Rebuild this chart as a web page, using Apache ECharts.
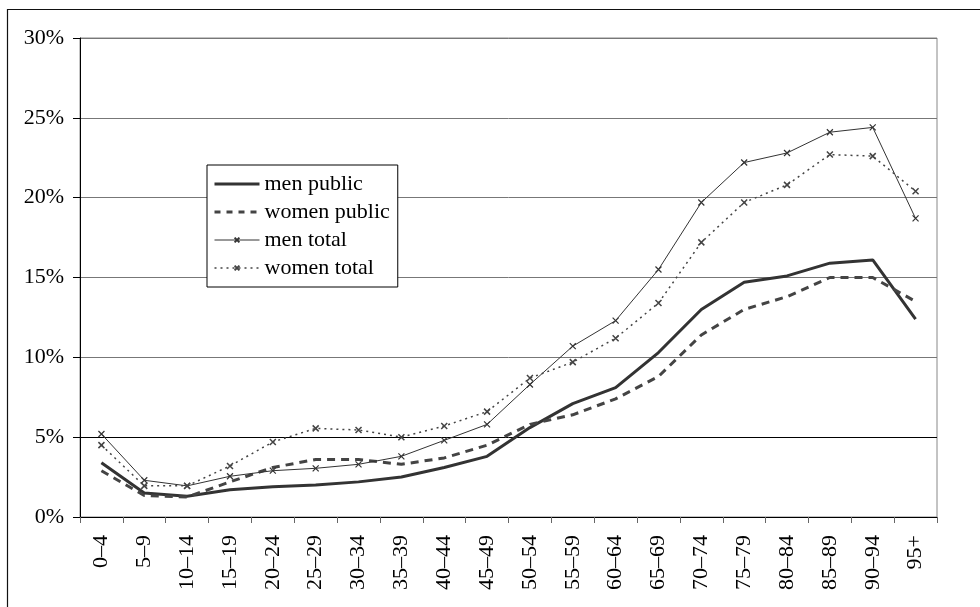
<!DOCTYPE html>
<html>
<head>
<meta charset="utf-8">
<script src="https://cdn.jsdelivr.net/npm/echarts@6/dist/echarts.min.js"></script>
<style>
  html, body { margin: 0; padding: 0; background: #fff; }
  #main { width: 980px; height: 607px; }
</style>
</head>
<body>
<div id="main"></div>
<script>
// age groups
var ageGroups = ['0–4', '5–9', '10–14', '15–19', '20–24', '25–29', '30–34', '35–39', '40–44', '45–49',
  '50–54', '55–59', '60–64', '65–69', '70–74', '75–79', '80–84', '85–89', '90–94', '95+'];

// percentages
var menPublic = [3.4, 1.5, 1.3, 1.7, 1.9, 2.0, 2.2, 2.5, 3.1, 3.8, 5.6, 7.1, 8.1, 10.3, 13.0, 14.7, 15.1, 15.9, 16.1, 12.4];
var womenPublic = [2.9, 1.35, 1.25, 2.2, 3.1, 3.6, 3.6, 3.3, 3.7, 4.5, 5.8, 6.4, 7.4, 8.8, 11.4, 13.0, 13.8, 15.0, 15.0, 13.5];
var menTotal = [5.2, 2.3, 1.95, 2.55, 2.9, 3.05, 3.3, 3.8, 4.8, 5.8, 8.3, 10.7, 12.3, 15.5, 19.7, 22.2, 22.8, 24.1, 24.4, 18.7];
var womenTotal = [4.5, 1.95, 1.95, 3.2, 4.7, 5.55, 5.45, 5.0, 5.7, 6.6, 8.7, 9.7, 11.2, 13.4, 17.2, 19.7, 20.8, 22.7, 22.6, 20.4];

var crossMark = 'path://M0,0L10,10M10,0L0,10';
var font = 'Liberation Serif';

var chart = echarts.init(document.getElementById('main'));
chart.setOption({
  animation: false,
  backgroundColor: '#fff',
  textStyle: { fontFamily: font, color: '#000' },
  graphic: [{
    type: 'rect',
    shape: { x: 7.5, y: 9.5, width: 1000, height: 1000 },
    style: { fill: 'none', stroke: '#111', lineWidth: 1.2 },
    silent: true
  }],
  grid: { left: 80, right: 43, top: 38, bottom: 90, show: true, borderColor: '#888', borderWidth: 1 },
  legend: {
    orient: 'vertical',
    left: 207,
    top: 165,
    // no marker on the public lines, small cross on the totals
    data: [
      { name: 'men public', itemStyle: { opacity: 0 }, lineStyle: { width: 3 } },
      { name: 'women public', itemStyle: { opacity: 0 }, lineStyle: { width: 3, type: [6, 6] } },
      { name: 'men total', lineStyle: { width: 1 } },
      { name: 'women total', lineStyle: { width: 1.5, type: [2, 4] } }
    ],
    itemWidth: 45,
    itemHeight: 6,
    itemGap: 6,
    padding: [8, 8, 8, 6],
    backgroundColor: '#fff',
    borderColor: '#000',
    borderWidth: 1,
    textStyle: { fontFamily: font, fontSize: 22, color: '#000', lineHeight: 22 }
  },
  xAxis: {
    type: 'category',
    data: ageGroups,
    boundaryGap: true,
    axisLine: { lineStyle: { color: '#000', width: 1 } },
    axisTick: { show: true, interval: 0, length: 6, lineStyle: { color: '#666' } },
    axisLabel: { interval: 0, rotate: 90, margin: 18, fontFamily: font, fontSize: 22, color: '#000' },
    splitLine: { show: false }
  },
  yAxis: {
    type: 'value',
    min: 0,
    max: 30,
    interval: 5,
    axisLine: { show: true, lineStyle: { color: '#000', width: 1 } },
    axisTick: { show: true, length: 7, lineStyle: { color: '#000' } },
    axisLabel: { formatter: '{value}%', margin: 16, fontFamily: font, fontSize: 22, color: '#000' },
    splitLine: { show: true, lineStyle: { color: ['#000', '#000', '#777', '#777', '#777', '#777', '#777'], width: 1 } }
  },
  series: [
    {
      name: 'men public', type: 'line', data: menPublic,
      symbol: 'none', color: '#333',
      lineStyle: { color: '#333', width: 3 }
    },
    {
      name: 'women public', type: 'line', data: womenPublic,
      symbol: 'none', color: '#444',
      lineStyle: { color: '#444', width: 3, type: [8, 6] }
    },
    {
      name: 'men total', type: 'line', data: menTotal,
      symbol: crossMark, symbolSize: 6, color: '#333',
      itemStyle: { color: '#333', borderColor: '#333', borderWidth: 1.2 },
      lineStyle: { color: '#333', width: 1 }
    },
    {
      name: 'women total', type: 'line', data: womenTotal,
      symbol: crossMark, symbolSize: 6, color: '#444',
      itemStyle: { color: '#444', borderColor: '#444', borderWidth: 1.5 },
      lineStyle: { color: '#444', width: 1.5, type: [2, 4] }
    }
  ]
});
</script>
</body>
</html>
